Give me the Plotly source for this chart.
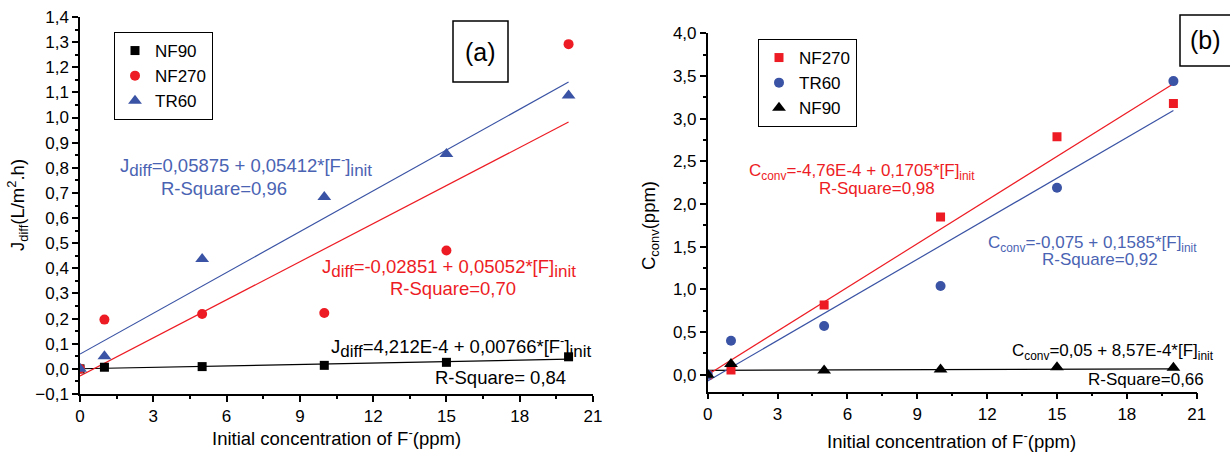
import plotly.graph_objects as go

W, H = 1230, 454
FONT = "Arial, Liberation Sans, sans-serif"
RED = "#ed1c24"
BLUE = "#3a53a4"
BLUE_TXT = "#4a63b3"
BLACK = "#000000"

# ---------- data panel (a) ----------
conc = [0, 1, 5, 10, 15, 20]
a_nf90 = [0.0, 0.0065, 0.009, 0.014, 0.026, 0.048]
a_nf270 = [0.0, 0.196, 0.218, 0.222, 0.471, 1.292]
a_tr60 = [0.0, 0.05, 0.437, 0.684, 0.855, 1.088]
# fitted lines (intercept, slope) as drawn
a_fit_nf90 = (0.0004, 0.0019)
a_fit_nf270 = (-0.02851, 0.05052)
a_fit_tr60 = (0.05875, 0.05412)

# ---------- data panel (b) ----------
b_nf270 = [0.0, 0.055, 0.816, 1.846, 2.787, 3.178]
b_tr60 = [0.0, 0.398, 0.570, 1.039, 2.19, 3.44]
b_nf90 = [0.0, 0.125, 0.047, 0.06, 0.087, 0.08]
b_fit_nf270 = (-4.76e-4, 0.1705)
b_fit_tr60 = (-0.075, 0.1585)
b_fit_nf90 = (0.05, 8.57e-4)

fit_x = [0, 20]


def line_y(fit):
    return [fit[0] + fit[1] * x for x in fit_x]


fig = go.Figure()

# panel (a) fit lines
for fit, col in [(a_fit_nf90, BLACK), (a_fit_nf270, RED), (a_fit_tr60, BLUE)]:
    fig.add_trace(go.Scatter(x=fit_x, y=line_y(fit), mode="lines", line=dict(color=col, width=1.2),
                             showlegend=False, xaxis="x", yaxis="y", hoverinfo="skip"))
# panel (a) points
fig.add_trace(go.Scatter(x=conc, y=a_nf90, mode="markers", name="NF90",
                         marker=dict(symbol="square", size=9, color=BLACK), xaxis="x", yaxis="y", legend="legend"))
fig.add_trace(go.Scatter(x=conc, y=a_nf270, mode="markers", name="NF270",
                         marker=dict(symbol="circle", size=10, color=RED), xaxis="x", yaxis="y", legend="legend"))
fig.add_trace(go.Scatter(x=conc, y=a_tr60, mode="markers", name="TR60",
                         marker=dict(symbol="triangle-up", size=12, color=BLUE), xaxis="x", yaxis="y", legend="legend"))

# panel (b) fit lines
for fit, col in [(b_fit_nf90, BLACK), (b_fit_nf270, RED), (b_fit_tr60, BLUE)]:
    fig.add_trace(go.Scatter(x=fit_x, y=line_y(fit), mode="lines", line=dict(color=col, width=1.2),
                             showlegend=False, xaxis="x2", yaxis="y2", hoverinfo="skip"))
fig.add_trace(go.Scatter(x=conc, y=b_nf270, mode="markers", name="NF270",
                         marker=dict(symbol="square", size=9, color=RED), xaxis="x2", yaxis="y2", legend="legend2"))
fig.add_trace(go.Scatter(x=conc, y=b_tr60, mode="markers", name="TR60",
                         marker=dict(symbol="circle", size=10, color=BLUE), xaxis="x2", yaxis="y2", legend="legend2"))
fig.add_trace(go.Scatter(x=conc, y=b_nf90, mode="markers", name="NF90",
                         marker=dict(symbol="triangle-up", size=12, color=BLACK), xaxis="x2", yaxis="y2", legend="legend2"))


def px_x(p):
    return p / W


def px_y(p):
    return 1 - p / H


common_axis = dict(showline=True, linecolor="black", linewidth=1.5, ticks="outside", ticklen=6,
                   tickwidth=1.5, tickcolor="black", showgrid=False, zeroline=False, automargin=False,
                   tickfont=dict(family=FONT, size=17, color="black"))

fig.update_layout(
    width=W, height=H, margin=dict(l=0, r=0, t=0, b=0),
    paper_bgcolor="white", plot_bgcolor="white",
    separators=",.",
    font=dict(family=FONT, size=17, color="black"),
    xaxis=dict(domain=[px_x(80), px_x(593)], range=[0, 21], dtick=3, tick0=0, anchor="y",
               minor=dict(dtick=1.5, ticks="outside", ticklen=3, tickcolor="black"), **common_axis),
    yaxis=dict(domain=[px_y(394), px_y(17)], range=[-0.1, 1.4], dtick=0.1, tick0=0, tickformat=".1f",
               anchor="x", minor=dict(dtick=0.05, ticks="outside", ticklen=3, tickcolor="black"), **common_axis),
    xaxis2=dict(domain=[px_x(707.7), px_x(1196.7)], range=[0, 21], dtick=3, tick0=0, anchor="y2",
                minor=dict(dtick=1.5, ticks="outside", ticklen=3, tickcolor="black"), **common_axis),
    yaxis2=dict(domain=[px_y(391.7), px_y(33.3)], range=[-0.2, 4.0], dtick=0.5, tick0=0, tickformat=".1f",
                anchor="x2", minor=dict(dtick=0.25, ticks="outside", ticklen=3, tickcolor="black"), **common_axis),
    legend=dict(x=px_x(114), y=px_y(32), xanchor="left", yanchor="top", bordercolor="black", borderwidth=1,
                font=dict(family=FONT, size=17, color="black"), bgcolor="white", itemwidth=30,
                tracegroupgap=0),
    legend2=dict(x=px_x(758), y=px_y(39), xanchor="left", yanchor="top", bordercolor="black", borderwidth=1,
                 font=dict(family=FONT, size=17, color="black"), bgcolor="white", itemwidth=30,
                 tracegroupgap=0),
)

ann = []


def add_text(text, cx, cy, size, color, angle=0):
    ann.append(dict(text=text, x=px_x(cx), y=px_y(cy), xref="paper", yref="paper", showarrow=False,
                    xanchor="center", yanchor="middle", textangle=angle,
                    font=dict(family=FONT, size=size, color=color)))


def big_sub(s):
    return '<sub><span style="font-size:17px">' + s + '</span></sub>'


# axis titles
add_text("J<sub>diff</sub>(L/m<sup>2</sup>.h)", 17, 205, 18.5, "black", -90)
add_text("Initial concentration of F<sup>-</sup>(ppm)", 336, 437, 18.5, "black")
add_text("C<sub>conv</sub>(ppm)", 650, 226, 18.5, "black", -90)
add_text("Initial concentration of F<sup>-</sup>(ppm)", 952, 440, 18.5, "black")

# panel (a) equations
add_text("J" + big_sub("diff") + "=0,05875 + 0,05412*[F<sup>-</sup>]" + big_sub("init"), 246, 166, 18.5, BLUE_TXT)
add_text("R-Square=0,96", 224, 188, 18.5, BLUE_TXT)
add_text("J" + big_sub("diff") + "=-0,02851 + 0,05052*[F]" + big_sub("init"), 449, 268, 18.5, RED)
add_text("R-Square=0,70", 453, 288, 18.5, RED)
add_text("J" + big_sub("diff") + "=4,212E-4 + 0,00766*[F<sup>-</sup>]" + big_sub("init"), 461, 347, 18.5, BLACK)
add_text("R-Square= 0,84", 501, 377, 18.5, BLACK)

# panel (b) equations
add_text("C<sub>conv</sub>=-4,76E-4 + 0,1705*[F]<sub>init</sub>", 862, 172, 17, RED)
add_text("R-Square=0,98", 877, 188, 17, RED)
add_text("C<sub>conv</sub>=-0,075 + 0,1585*[F]<sub>init</sub>", 1092, 244, 17, BLUE_TXT)
add_text("R-Square=0,92", 1100, 259, 17, BLUE_TXT)
add_text("C<sub>conv</sub>=0,05 + 8,57E-4*[F]<sub>init</sub>", 1113, 352, 17, BLACK)
add_text("R-Square=0,66", 1146, 379, 17, BLACK)

# panel labels
add_text("(a)", 480, 52, 25, "black")
add_text("(b)", 1205, 40, 25, "black")

fig.update_layout(annotations=ann)

fig.update_layout(shapes=[
    dict(type="rect", xref="paper", yref="paper", x0=px_x(453), x1=px_x(508), y0=px_y(82), y1=px_y(21),
         line=dict(color="black", width=1.5)),
    dict(type="rect", xref="paper", yref="paper", x0=px_x(1180), x1=px_x(1240), y0=px_y(66), y1=px_y(15),
         line=dict(color="black", width=1.5)),
])

fig.write_html("out.html")
